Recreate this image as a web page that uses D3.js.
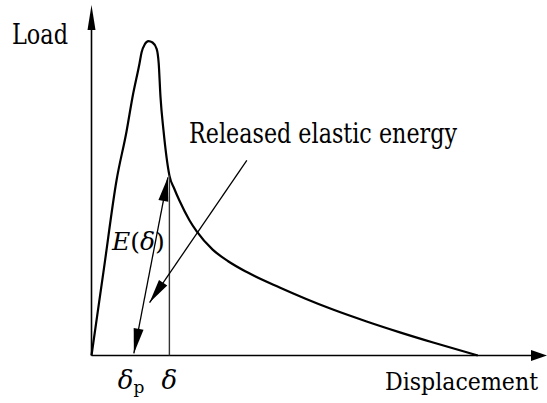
<!DOCTYPE html>
<html>
<head>
<meta charset="utf-8">
<script src="https://cdn.jsdelivr.net/npm/d3@7"></script>
<style>
  body { margin: 0; background: #fff; }
</style>
</head>
<body>
<div id="chart"></div>
<script>
// size of the picture
var width = 547
var height = 403
var serif = "'DejaVu Serif', 'Liberation Serif', serif"

// load-displacement curve (arbitrary units)
var displacement = [0, 2.75, 5.5, 7.7, 9.0, 10.55, 11.0, 11.7, 12.5, 13.4, 14.3, 14.75, 15.15, 15.8, 17.1, 18.2, 19.3, 21.5, 23.1, 26.6, 30.0, 34.1, 41.3, 47.0, 53.0, 60.4, 67.7, 75.0, 84.8]
var load =         [0, 25,   50,  64,  73.7, 83.4, 86.5, 88.8, 89.7, 89.3, 87.5, 83.4, 73.7, 64.3, 51.4, 47.5, 44.2, 38.6, 35.4, 30.2, 26.9, 23.8, 19.4, 16.2, 13.1, 9.7, 6.6, 3.7, 0]

// marked displacements
var deltaP = 9.3
var delta = 17.1
var loadAtDelta = 51.4

// leader line of the "Released elastic energy" note
var leaderFrom = [34.1, 55.7]
var leaderTo = [12.75, 15.1]

var svg = d3.select("#chart")
    .append("svg")
    .attr("width", width)
    .attr("height", height)

var x = d3.scaleLinear().domain([0, 100]).range([91.5, 547])
var y = d3.scaleLinear().domain([0, 100]).range([355.5, 5])

// draw a filled arrow head with its tip at (tx,ty) pointing away from (fx,fy)
function arrowHead(tx, ty, fx, fy, len, w) {
    var dx = tx - fx, dy = ty - fy
    var d = Math.sqrt(dx * dx + dy * dy)
    var ux = dx / d, uy = dy / d
    var bx = tx - ux * len, by = ty - uy * len
    var pts = [[tx, ty], [bx - uy * w / 2, by + ux * w / 2], [bx + uy * w / 2, by - ux * w / 2]]
    svg.append("polygon")
        .attr("points", pts.map(function(p) { return p.join(","); }).join(" "))
        .style("fill", "#000")
}

// axes
svg.append("line")
    .attr("x1", x(0)).attr("y1", y(0))
    .attr("x2", x(0)).attr("y2", y(100) + 20)
    .attr("stroke", "#000").style("stroke-width", 1.6)
arrowHead(x(0), y(100), x(0), y(0), 25, 8)

svg.append("line")
    .attr("x1", x(0)).attr("y1", y(0))
    .attr("x2", x(100) - 12).attr("y2", y(0))
    .attr("stroke", "#000").style("stroke-width", 1.6)
arrowHead(x(100), y(0), x(0), y(0), 16, 11)

// curve
var curveData = displacement.map(function(d, i) { return [d, load[i]]; })
var line = d3.line()
    .x(function(d) { return x(d[0]); })
    .y(function(d) { return y(d[1]); })
    .curve(d3.curveMonotoneX)

svg.append("path")
    .datum(curveData)
    .attr("d", line)
    .style("fill", "none")
    .attr("stroke", "#000")
    .style("stroke-width", 2.2)

// vertical line at delta
svg.append("line")
    .attr("x1", x(delta)).attr("y1", y(0))
    .attr("x2", x(delta)).attr("y2", y(loadAtDelta))
    .attr("stroke", "#333").style("stroke-width", 1.4)

// double arrow E(delta)
var ax1 = x(deltaP), ay1 = y(0.6), ax2 = x(delta) - 1.5, ay2 = y(loadAtDelta) + 2
svg.append("line")
    .attr("x1", ax1).attr("y1", ay1)
    .attr("x2", ax2).attr("y2", ay2)
    .attr("stroke", "#000").style("stroke-width", 1.3)
arrowHead(ax1, ay1, ax2, ay2, 25, 10)
arrowHead(ax2, ay2, ax1, ay1, 24, 10)

// leader arrow
svg.append("line")
    .attr("x1", x(leaderFrom[0])).attr("y1", y(leaderFrom[1]))
    .attr("x2", x(leaderTo[0])).attr("y2", y(leaderTo[1]))
    .attr("stroke", "#000").style("stroke-width", 1.3)
arrowHead(x(leaderTo[0]), y(leaderTo[1]), x(leaderFrom[0]), y(leaderFrom[1]), 24, 10)

// texts (textLength squeezes DejaVu Serif to the Times widths of the picture)
function label(px, py, size, len) {
    var t = svg.append("text").attr("x", px).attr("y", py)
        .style("font-family", serif).attr("font-size", size).attr("fill", "#000")
    if (len) t.attr("textLength", len).attr("lengthAdjust", "spacingAndGlyphs")
    return t
}
label(12, 44, 27, 56).text("Load")
label(189, 143, 27, 268).text("Released elastic energy")
label(385, 390, 25, 153).text("Displacement")

var e = label(112, 250, 25).attr("font-style", "italic")
e.append("tspan").text("E")
e.append("tspan").attr("font-style", "normal").text("(")
e.append("tspan").text("δ")
e.append("tspan").attr("font-style", "normal").text(")")

var dp = label(x(deltaP) - 16, 389, 26)
dp.append("tspan").attr("font-style", "italic").text("δ")
dp.append("tspan").attr("dy", 4).attr("font-size", 17).text("p")

label(x(delta), 389, 26)
    .attr("text-anchor", "middle")
    .attr("font-style", "italic").text("δ")
</script>
</body>
</html>
